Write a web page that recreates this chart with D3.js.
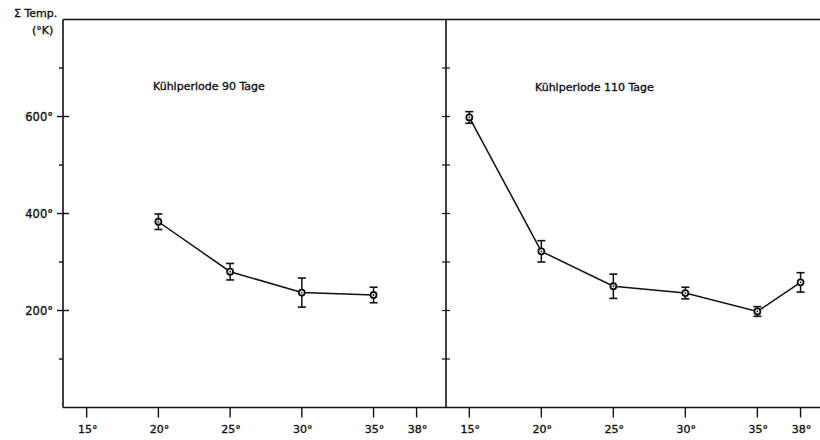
<!DOCTYPE html>
<html>
<head>
<meta charset="utf-8">
<script src="https://cdn.jsdelivr.net/npm/d3@7"></script>
<style>
  body { margin: 0; background: #fff; }
  svg { font-family: "DejaVu Sans", sans-serif; }
  text { stroke: #111; stroke-width: 0.35; }
</style>
</head>
<body>
<svg id="chart" width="820" height="440"></svg>
<script>
// values
let tempsA = [20, 25, 30, 35];
let meanA = [383, 280, 237, 232];
let errA = [16, 17, 30, 16];

let tempsB = [15, 20, 25, 30, 35, 38];
let meanB = [598, 322, 250, 236, 198, 258];
let errB = [12, 22, 25, 12, 10, 20];

let xTicks = [15, 20, 25, 30, 35, 38];
let yMajor = [200, 400, 600];
let yMinor = [100, 300, 500, 700];
let yAll = [100, 200, 300, 400, 500, 600, 700];

let svg = d3.select("#chart");
let ink = "#111";

let yScale = d3.scaleLinear().domain([0, 800]).range([407.5, 19.5]);
let xLeft = d3.scaleLinear().domain([13.35, 40.05]).range([63, 446]);
let xRight = d3.scaleLinear().domain([13.38, 39.35]).range([446, 820]);

// frame
svg.append("line").attr("x1", 63).attr("x2", 820).attr("y1", yScale(800)).attr("y2", yScale(800))
    .attr("stroke", ink).attr("stroke-width", 1.6);
svg.append("line").attr("x1", 63).attr("x2", 820).attr("y1", yScale(0)).attr("y2", yScale(0))
    .attr("stroke", ink).attr("stroke-width", 1.6);
svg.append("line").attr("x1", 63).attr("x2", 63).attr("y1", yScale(800)).attr("y2", yScale(0))
    .attr("stroke", ink).attr("stroke-width", 1.6);
svg.append("line").attr("x1", 446).attr("x2", 446).attr("y1", yScale(800)).attr("y2", yScale(0))
    .attr("stroke", ink).attr("stroke-width", 1.6);

// y axis ticks on the left
svg.selectAll(".ymaj").data(yMajor).enter().append("line")
    .attr("x1", 57).attr("x2", 69)
    .attr("y1", (d) => yScale(d)).attr("y2", (d) => yScale(d))
    .attr("stroke", ink).attr("stroke-width", 1.4);
svg.selectAll(".ymin").data(yMinor).enter().append("line")
    .attr("x1", 59).attr("x2", 63)
    .attr("y1", (d) => yScale(d)).attr("y2", (d) => yScale(d))
    .attr("stroke", ink).attr("stroke-width", 1.4);
svg.selectAll(".ylab").data(yMajor).enter().append("text")
    .attr("x", 53).attr("y", (d) => yScale(d) + 4)
    .attr("text-anchor", "end")
    .attr("font-size", 11.5).attr("fill", ink)
    .text((d) => d + "°");

// ticks on the divider
svg.selectAll(".ydiv").data(yAll).enter().append("line")
    .attr("x1", 442).attr("x2", 450)
    .attr("y1", (d) => yScale(d)).attr("y2", (d) => yScale(d))
    .attr("stroke", ink).attr("stroke-width", 1.2);

// axis title
svg.append("text").attr("x", 14).attr("y", 17).attr("font-size", 11).attr("fill", ink).text("Σ Temp.");
svg.append("text").attr("x", 32).attr("y", 34).attr("font-size", 11).attr("fill", ink).text("(°K)");

// x ticks for each panel
[xLeft, xRight].forEach(function (xs) {
    svg.append("g").selectAll("line").data(xTicks).enter().append("line")
        .attr("x1", (d) => xs(d)).attr("x2", (d) => xs(d))
        .attr("y1", yScale(0)).attr("y2", yScale(0) + 10)
        .attr("stroke", ink).attr("stroke-width", 1.4);
    svg.append("g").selectAll("text").data(xTicks).enter().append("text")
        .attr("x", (d) => xs(d) + 1).attr("y", 433)
        .attr("text-anchor", "middle")
        .attr("font-size", 11).attr("fill", ink)
        .text((d) => d + "°");
});

// panel titles
svg.append("text").attr("x", 153).attr("y", 90).attr("font-size", 11).attr("fill", ink)
    .text("Kühlperiode 90 Tage");
svg.append("text").attr("x", 535).attr("y", 91).attr("font-size", 11).attr("fill", ink)
    .text("Kühlperiode 110 Tage");

function drawSeries(xs, temps, means, errs) {
    let data = temps.map((t, i) => ({ t: t, m: means[i], e: errs[i] }));
    let g = svg.append("g");
    let line = d3.line().x((d) => xs(d.t)).y((d) => yScale(d.m));
    g.append("path").attr("d", line(data)).attr("fill", "none")
        .attr("stroke", ink).attr("stroke-width", 1.5);
    // error bars
    g.selectAll(".eb").data(data).enter().append("line")
        .attr("x1", (d) => xs(d.t)).attr("x2", (d) => xs(d.t))
        .attr("y1", (d) => yScale(d.m + d.e)).attr("y2", (d) => yScale(d.m - d.e))
        .attr("stroke", ink).attr("stroke-width", 1.5);
    g.selectAll(".capt").data(data).enter().append("line")
        .attr("x1", (d) => xs(d.t) - 4).attr("x2", (d) => xs(d.t) + 4)
        .attr("y1", (d) => yScale(d.m + d.e)).attr("y2", (d) => yScale(d.m + d.e))
        .attr("stroke", ink).attr("stroke-width", 1.6);
    g.selectAll(".capb").data(data).enter().append("line")
        .attr("x1", (d) => xs(d.t) - 4).attr("x2", (d) => xs(d.t) + 4)
        .attr("y1", (d) => yScale(d.m - d.e)).attr("y2", (d) => yScale(d.m - d.e))
        .attr("stroke", ink).attr("stroke-width", 1.6);
    g.selectAll(".pt").data(data).enter().append("circle")
        .attr("cx", (d) => xs(d.t)).attr("cy", (d) => yScale(d.m))
        .attr("r", 3).attr("fill", "#fff")
        .attr("stroke", ink).attr("stroke-width", 1.8);
    g.selectAll(".dot").data(data).enter().append("circle")
        .attr("cx", (d) => xs(d.t)).attr("cy", (d) => yScale(d.m))
        .attr("r", 0.9).attr("fill", ink);
}

drawSeries(xLeft, tempsA, meanA, errA);
drawSeries(xRight, tempsB, meanB, errB);
</script>
</body>
</html>
